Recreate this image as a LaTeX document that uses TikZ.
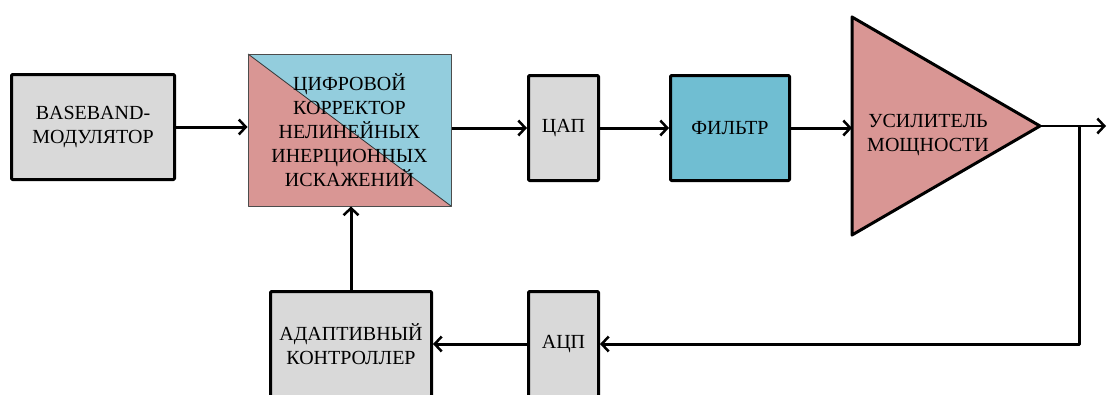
\documentclass[tikz,border=0pt]{standalone}
\usepackage{fontspec}
\setmainfont{Liberation Serif}
\usetikzlibrary{arrows.meta}
\definecolor{boxgray}{HTML}{D9D9D9}
\definecolor{corrblue}{HTML}{93CDDD}
\definecolor{corrpink}{HTML}{D99694}
\definecolor{filtblue}{HTML}{70BED2}
\tikzset{
  blk/.style={draw=black, line width=3pt, fill=boxgray, rounded corners=1pt,
    align=center, inner sep=0pt},
  link/.style={line width=3pt, -{Straight Barb[length=7pt,width=15pt,line width=2.5pt]}},
}
\begin{document}
\begin{tikzpicture}[x=1pt, y=-1pt, font=\fontsize{20}{24}\selectfont, line join=round]
\useasboundingbox (0,0) rectangle (1107,394);
% блоки верхней цепочки
\node[blk, minimum width=163pt, minimum height=105pt] (mod) at (93,127) {BASEBAND-\\МОДУЛЯТОР};
% корректор: фон из двух треугольников
\fill[corrpink] (248,54) -- (451,206) -- (248,206) -- cycle;
\fill[corrblue] (248,54) -- (451,54) -- (451,206) -- cycle;
\draw[black!80, line width=0.8pt] (248,54) -- (451,206);
\node[draw=black!70, line width=1pt, minimum width=203pt, minimum height=152pt,
  inner sep=0pt, align=center] (corr) at (349.5,130)
  {ЦИФРОВОЙ\\КОРРЕКТОР\\НЕЛИНЕЙНЫХ\\ИНЕРЦИОННЫХ\\ИСКАЖЕНИЙ};
\node[blk, minimum width=70pt, minimum height=105pt] (dac) at (563.5,128) {ЦАП};
\node[blk, fill=filtblue, minimum width=119pt, minimum height=105pt] (filt) at (730,128) {ФИЛЬТР};
% усилитель мощности
\coordinate (ampin) at (852,127);
\coordinate (ampout) at (1040,126);
\draw[line width=3pt, fill=corrpink] (852,17) -- (ampout) -- (852,235) -- cycle;
\node[align=center, inner sep=0pt] (amp) at (928,135) {УСИЛИТЕЛЬ\\МОЩНОСТИ};
% цепь обратной связи
\node[blk, minimum width=70pt, minimum height=105pt] (adc) at (563.5,344) {АЦП};
\node[blk, minimum width=161pt, minimum height=105pt] (ctrl) at (351,344) {АДАПТИВНЫЙ\\КОНТРОЛЛЕР};
\coordinate (tap) at (1079,126);
\coordinate (out) at (1106,126);
% соединения
\draw[link] (mod.east) -- (mod.east -| corr.west);
\draw[link] (corr.east |- dac.west) -- (dac.west);
\draw[link] (dac.east) -- (filt.west);
\draw[link] (filt.east) -- (filt.east -| ampin);
\draw[link, line width=2pt] (ampout) -- (out);
\draw[link] (tap) |- (adc.east);
\draw[link] (adc.west) -- (ctrl.east);
\draw[link] (ctrl.north) -- (ctrl.north |- corr.south);
\end{tikzpicture}
\end{document}
